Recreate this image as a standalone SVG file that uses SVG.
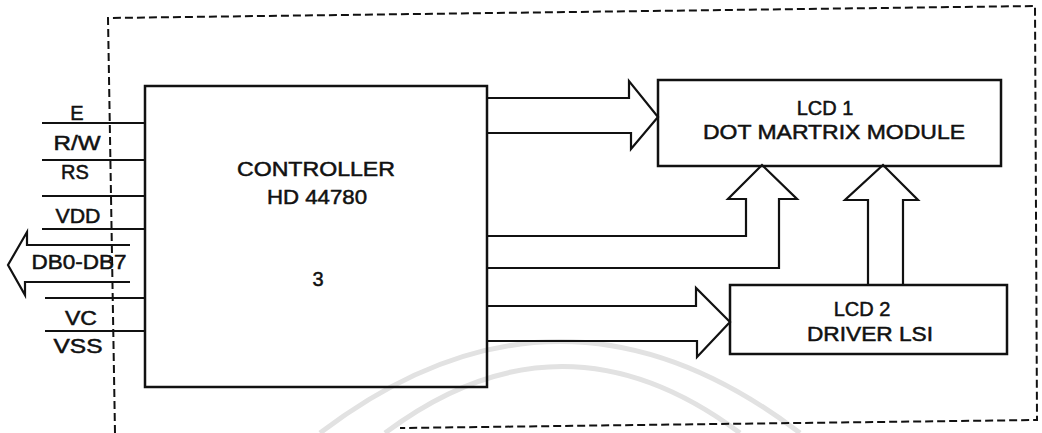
<svg xmlns="http://www.w3.org/2000/svg" width="1042" height="433" viewBox="0 0 1042 433">
<style>
.ln{fill:none;stroke:#111;stroke-width:2.2;stroke-linejoin:miter}
.box{fill:none;stroke:#111;stroke-width:2.5}
.dash{fill:none;stroke:#111;stroke-width:2;stroke-dasharray:8 4}
.wm{fill:none;stroke:#e2e2e2;stroke-width:5}
.t{font-family:"Liberation Sans",Arial,sans-serif;fill:#111;stroke:#111;stroke-width:0.5;text-anchor:middle}
.big{font-size:20px}
.pin{font-size:20px}
</style>
<rect width="1042" height="433" fill="#fff"/>
<g id="watermark">
<path class="wm" d="M320,433 Q560,250 800,433"/>
<path class="wm" d="M385,433 Q562,300 740,433"/>
</g>
<g id="boundary">
<path class="dash" d="M115,433 L108,18 L1035,6 L1037,420 L400,428"/>
</g>
<g id="controller">
<rect class="box" x="145" y="86" width="342" height="301"/>
<text class="t big" x="316" y="176" textLength="158" lengthAdjust="spacingAndGlyphs">CONTROLLER</text>
<text class="t big" x="317" y="204" textLength="100" lengthAdjust="spacingAndGlyphs">HD 44780</text>
<text class="t big" x="318" y="286">3</text>
</g>
<g id="lcd1">
<rect class="box" x="658" y="80" width="343" height="86"/>
<text class="t big" x="825" y="115">LCD 1</text>
<text class="t big" x="834" y="139" textLength="262" lengthAdjust="spacingAndGlyphs">DOT MARTRIX MODULE</text>
</g>
<g id="lcd2">
<rect class="box" x="730" y="285" width="277" height="69"/>
<text class="t big" x="862" y="316">LCD 2</text>
<text class="t big" x="870" y="341" textLength="126" lengthAdjust="spacingAndGlyphs">DRIVER LSI</text>
</g>
<g id="pins">
<text class="t pin" x="77" y="120">E</text>
<text class="t pin" x="77" y="150" textLength="47" lengthAdjust="spacingAndGlyphs">R/W</text>
<text class="t pin" x="75" y="179">RS</text>
<text class="t pin" x="78" y="223" textLength="45" lengthAdjust="spacingAndGlyphs">VDD</text>
<text class="t pin" x="79" y="269" textLength="95" lengthAdjust="spacingAndGlyphs">DB0-DB7</text>
<text class="t pin" x="81" y="325" textLength="32" lengthAdjust="spacingAndGlyphs">VC</text>
<text class="t pin" x="78" y="353" textLength="49" lengthAdjust="spacingAndGlyphs">VSS</text>
</g>
<g id="connectors">
<path class="ln" d="M42,123 H145 M42,160 H145 M42,196 H145 M42,229 H145 M45,298 H145 M45,331 H145"/>
<path class="ln" d="M130,245 H27 V232 L8,265 L25,295 V282 H130"/>
<path class="ln" d="M487,98 H629 V81 L658,117 L631,149 V133 H487"/>
<path class="ln" d="M487,236 H746 V199 H728 L762,165 L797,199 H779 V268 H487"/>
<path class="ln" d="M487,306 H696 V288 L730,322 L697,357 V341 H487"/>
<path class="ln" d="M868,285 V200 H845 L883,165 L918,200 H903 V285"/>
</g>
</svg>
